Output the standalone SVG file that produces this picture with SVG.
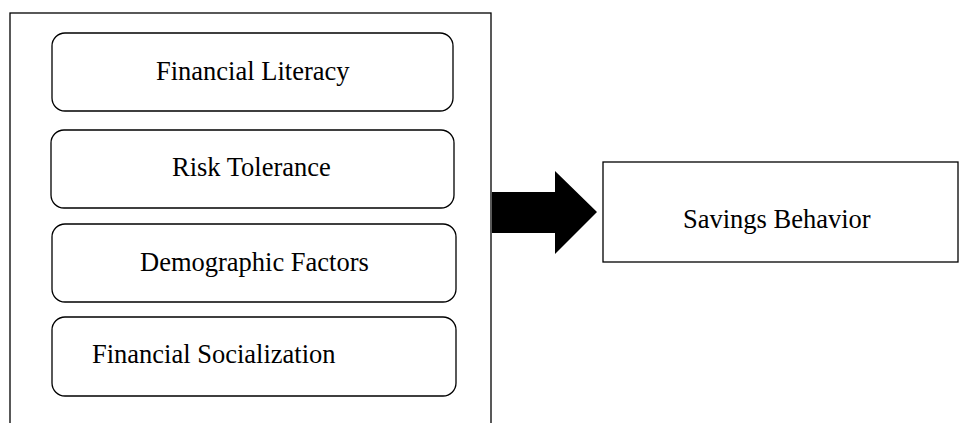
<svg xmlns="http://www.w3.org/2000/svg" width="961" height="423" viewBox="0 0 961 423">
  <style>
    .frame { fill: #ffffff; stroke: #000000; stroke-width: 1.3; }
    .factor { fill: #ffffff; stroke: #000000; stroke-width: 1.3; }
    .label { font-family: "Liberation Serif", "Times New Roman", serif; font-size: 26.5px; fill: #000000; }
  </style>
  <rect width="961" height="423" fill="#ffffff"/>

  <!-- container holding the four factors -->
  <g id="factors-frame">
    <rect class="frame" x="10" y="13" width="481" height="420"/>
  </g>

  <g id="financial-literacy">
    <rect class="factor" x="52" y="33" width="401" height="78" rx="13"/>
    <text class="label" x="156" y="80">Financial Literacy</text>
  </g>

  <g id="risk-tolerance">
    <rect class="factor" x="51" y="130" width="403" height="78" rx="13"/>
    <text class="label" x="172" y="176">Risk Tolerance</text>
  </g>

  <g id="demographic-factors">
    <rect class="factor" x="52" y="224" width="404" height="78" rx="13"/>
    <text class="label" x="140" y="271">Demographic Factors</text>
  </g>

  <g id="financial-socialization">
    <rect class="factor" x="52" y="317" width="404" height="79" rx="13"/>
    <text class="label" x="92" y="363">Financial Socialization</text>
  </g>

  <g id="savings-behavior">
    <rect class="frame" x="603" y="162" width="355" height="100"/>
    <text class="label" x="683" y="228">Savings Behavior</text>
  </g>

  <!-- block arrow linking the factors to the outcome -->
  <g id="connectors">
    <polygon points="492,192 555,192 555,171 597,212 555,254 555,233 492,233" fill="#000000"/>
  </g>
</svg>
